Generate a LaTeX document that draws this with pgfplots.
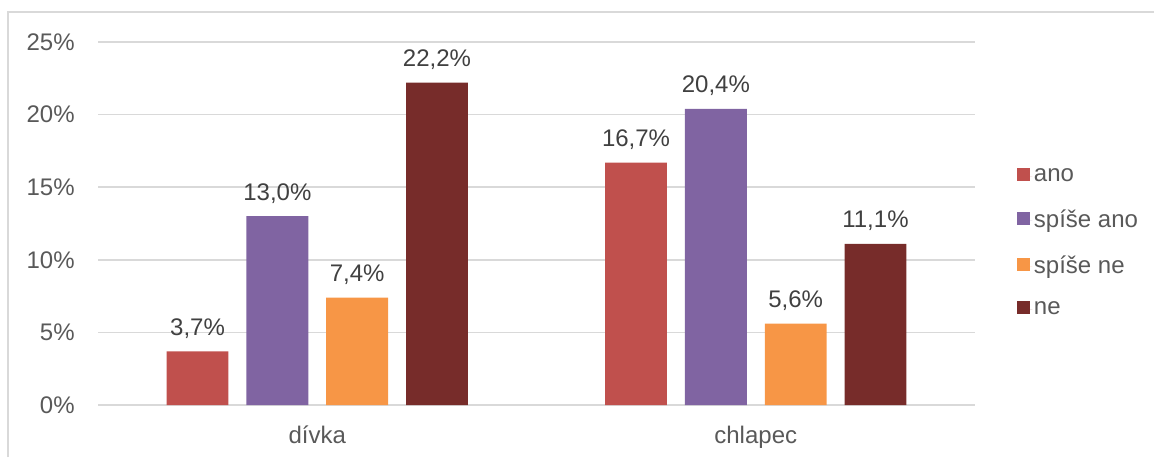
\documentclass[border=0pt]{standalone}
\usepackage{pgfplots}
\pgfplotsset{compat=1.18}
\usepackage{fontspec}
\setmainfont{Liberation Sans}

\definecolor{cano}{HTML}{C0504D}
\definecolor{cspano}{HTML}{8064A2}
\definecolor{cspne}{HTML}{F79646}
\definecolor{cne}{HTML}{772C2A}
\definecolor{gridc}{HTML}{D9D9D9}
\definecolor{txt}{HTML}{595959}
\definecolor{lbl}{HTML}{404040}

\begin{document}
\begin{tikzpicture}
\useasboundingbox (0,0) rectangle (577pt,228.5pt);
% light frame of the chart area (cut off at right and bottom)
\draw[gridc, line width=0.8pt] (4pt,0) -- (4pt,222.5pt) -- (577pt,222.5pt);

\begin{axis}[
    at={(49pt,26pt)}, anchor=south west,
    scale only axis,
    width=438.5pt, height=181.5pt,
    ybar, bar width=0.141,
    xmin=-0.5, xmax=1.5,
    ymin=0, ymax=25,
    xtick={0,1}, xticklabels={dívka, chlapec},
    ytick={0,5,10,15,20,25},
    yticklabel={\pgfmathprintnumber{\tick}\%},
    axis line style={draw=none},
    major tick length=0pt,
    ymajorgrids, grid style={gridc, line width=0.8pt},
    font=\fontsize{12}{14}\selectfont,
    tick label style={txt, font=\fontsize{12}{14}\selectfont},
    /pgf/number format/assume math mode=true,
    yticklabel style={anchor=east, inner sep=0pt, xshift=-11.5pt},
    xticklabel style={anchor=base, inner sep=0pt, yshift=-19pt},
    nodes near coords={\pgfmathprintnumber[fixed, fixed zerofill, precision=1, use comma]{\pgfplotspointmeta}\%},
    nodes near coords style={lbl, anchor=base, inner sep=0pt, yshift=8pt, font=\fontsize{12}{14}\selectfont},
    legend image code/.code={\fill[#1] (0pt,-2.3pt) rectangle (6.5pt,4.2pt); \path (0pt,0pt) -- (7.5pt,0pt);},
    legend style={at={(1,0.5)}, anchor=west, xshift=18pt, yshift=-9.8pt,
        draw=none, fill=none, text=txt, row sep=11.2pt,
        font=\fontsize{12}{14}\selectfont,
        nodes={inner sep=0.75pt}},
    legend cell align=left,
]
\addplot[fill=cano, draw=none, bar shift=-0.273] coordinates {(0,3.7) (1,16.7)};
\addplot[fill=cspano, draw=none, bar shift=-0.091] coordinates {(0,13.0) (1,20.4)};
\addplot[fill=cspne, draw=none, bar shift=0.091] coordinates {(0,7.4) (1,5.6)};
\addplot[fill=cne, draw=none, bar shift=0.273] coordinates {(0,22.2) (1,11.1)};
\legend{ano, spíše ano, spíše ne, ne}
\end{axis}
\end{tikzpicture}
\end{document}
